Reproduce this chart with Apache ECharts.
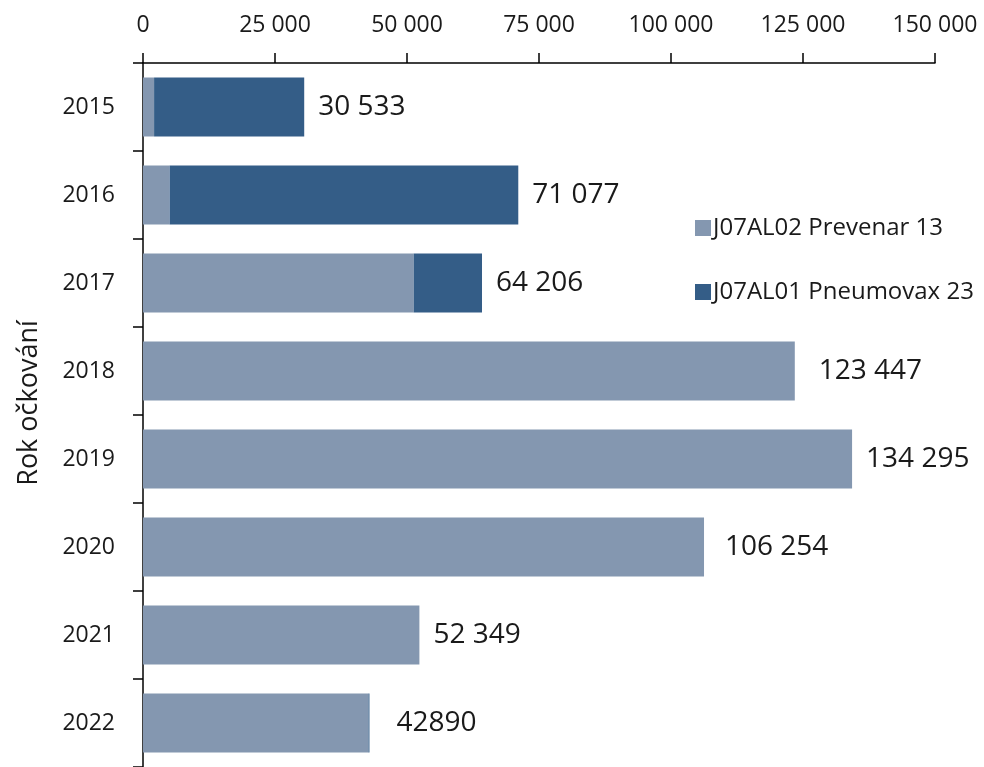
<!DOCTYPE html>
<html>
<head>
<meta charset="utf-8">
<script src="https://cdn.jsdelivr.net/npm/echarts@6/dist/echarts.min.js"></script>
<style>
  html, body { margin: 0; padding: 0; background: #fff; }
  #chart { width: 984px; height: 767px; }
</style>
</head>
<body>
<div id="chart"></div>
<script>
// Vaccination years (top to bottom)
const years = ['2015', '2016', '2017', '2018', '2019', '2020', '2021', '2022'];
// Doses per vaccine and year
const prevenar13 = [2100, 5050, 51270, 123447, 134295, 106254, 52349, 42700];
const pneumovax23 = [28433, 66027, 12936, 0, 0, 0, 0, 190];
// Axis ticks
const xTicks = [0, 25000, 50000, 75000, 100000, 125000, 150000];
// Years whose total is printed without a thousands separator
const ungroupedLabelYears = ['2022'];

const seriesNames = ['J07AL02 Prevenar 13', 'J07AL01 Pneumovax 23'];
const colors = ['#8497b0', '#345d87'];
const textColor = '#1a1a1a';
const font = '"Open Sans", "Noto Sans", sans-serif';
// Extra gap (px) between some bars and their total label
const labelGapExtra = { '2018': 10, '2020': 7, '2022': 13 };

const totals = years.map((_, i) => prevenar13[i] + pneumovax23[i]);

function groupThousands(v) {
  return String(v).replace(/\B(?=(\d{3})+(?!\d))/g, ' ');
}

const chart = echarts.init(document.getElementById('chart'), null, { renderer: 'canvas' });

chart.setOption({
  animation: false,
  backgroundColor: '#ffffff',
  grid: { left: 143, top: 63, width: 792, height: 706, containLabel: false },
  legend: {
    data: seriesNames,
    orient: 'vertical',
    left: 690,
    top: 211,
    itemWidth: 16,
    itemHeight: 16,
    itemGap: 40,
    icon: 'rect',
    textStyle: { fontFamily: font, fontSize: 24, color: textColor, lineHeight: 24, padding: [0, 0, 0, -3] }
  },
  xAxis: {
    type: 'value',
    position: 'top',
    min: xTicks[0],
    max: xTicks[xTicks.length - 1],
    interval: xTicks[1] - xTicks[0],
    axisLine: { show: true, lineStyle: { color: '#000', width: 1.5 } },
    axisTick: { show: true, length: 10, lineStyle: { color: '#000', width: 1.5 } },
    splitLine: { show: false },
    axisLabel: {
      margin: 26,
      fontFamily: font,
      fontSize: 23,
      color: textColor,
      formatter: v => groupThousands(v)
    }
  },
  yAxis: {
    type: 'category',
    data: years,
    inverse: true,
    name: 'Rok očkování',
    nameLocation: 'middle',
    nameGap: 100,
    nameTextStyle: { fontFamily: font, fontSize: 27, color: textColor, padding: [0, 0, 0, 24] },
    axisLine: { show: true, lineStyle: { color: '#000', width: 1.5 } },
    axisTick: { show: true, length: 10, lineStyle: { color: '#000', width: 1.5 } },
    axisLabel: { margin: 28, fontFamily: font, fontSize: 23, color: textColor }
  },
  series: [
    {
      name: seriesNames[0],
      type: 'bar',
      stack: 'doses',
      barWidth: 59,
      data: prevenar13,
      itemStyle: { color: colors[0] }
    },
    {
      name: seriesNames[1],
      type: 'bar',
      stack: 'doses',
      barWidth: 59,
      data: pneumovax23,
      itemStyle: { color: colors[1] }
    },
    {
      // Invisible overlay carrying the total per year as a label
      name: 'total',
      type: 'bar',
      barWidth: 59,
      barGap: '-100%',
      silent: true,
      z: 1,
      data: totals.map((v, i) => ({
        value: v,
        label: { distance: 14 + (labelGapExtra[years[i]] || 0) }
      })),
      itemStyle: { color: 'rgba(0,0,0,0)' },
      label: {
        show: true,
        position: 'right',
        distance: 14,
        fontFamily: font,
        fontSize: 28,
        color: textColor,
        formatter: p => ungroupedLabelYears.includes(p.name) ? String(p.value) : groupThousands(p.value)
      }
    }
  ]
});
</script>
</body>
</html>
